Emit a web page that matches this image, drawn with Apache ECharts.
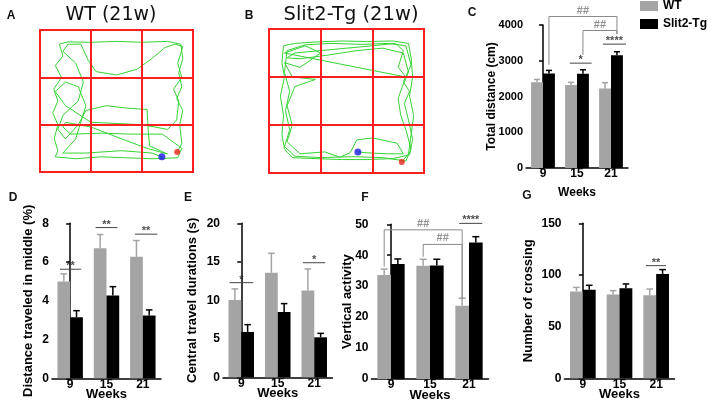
<!DOCTYPE html>
<html><head><meta charset="utf-8">
<script src="https://cdn.jsdelivr.net/npm/echarts@6/dist/echarts.min.js"></script>
<style>html,body{margin:0;padding:0;background:#fff}#c{width:708px;height:412px}</style>
</head><body><div id="c"></div>
<script>
// ---------- DATA ----------
const weeks = ['9', '15', '21'];
const groupNames = ['WT', 'Slit2-Tg'];

// C: Total distance (cm)
const cWT = [2400, 2320, 2225];   const cWTsem = [77, 75, 160];
const cTg = [2645, 2638, 3152];   const cTgsem = [85, 110, 100];
// D: Distance traveled in middle (%)
const dWT = [4.99, 6.71, 6.27];   const dWTsem = [0.40, 0.71, 0.84];
const dTg = [3.15, 4.27, 3.24];   const dTgsem = [0.34, 0.46, 0.29];
// E: Central travel durations (s)
const eWT = [10.05, 13.59, 11.26]; const eWTsem = [1.43, 2.51, 2.81];
const eTg = [5.89, 8.48, 5.19];    const eTgsem = [0.95, 1.09, 0.52];
// F: Vertical activity
const fWT = [33.6, 36.6, 23.7];   const fWTsem = [1.9, 2.1, 2.4];
const fTg = [37.2, 36.7, 44.1];   const fTgsem = [1.6, 2.0, 1.9];
// G: Number of crossing
const gWT = [84.1, 81.2, 80.3];   const gWTsem = [3.9, 3.6, 6.1];
const gTg = [85.8, 87.1, 101.0];  const gTgsem = [4.2, 4.2, 4.2];

// significance brackets: [fromWeekIdx, toWeekIdx, group(-1 WT / +1 Tg), lineY, leftEndY, rightEndY, text]
const cBrackets = [[0, 2, 1, 4238, 2885, 3745, '##'], [1, 2, 1, 3846, 3165, 3745, '##']];
const fBrackets = [[0, 2, -1, 48.2, 36.3, 26.1, '##'], [1, 2, -1, 43.5, 39.5, 26.1, '##']];
// significance lines: [weekIdx, startRel, endRel, y, text]
const cStars = [[1, -0.21, 0.43, 2933, '*'], [2, -0.24, 0.44, 3465, '****']];
const dStars = [[0, -0.28, 0.30, 5.63, '**'], [1, -0.30, 0.30, 7.78, '**'], [2, -0.22, 0.40, 7.44, '**']];
const eStars = [[0, -0.32, 0.33, 12.29, '*'], [2, -0.31, 0.30, 14.88, '*']];
const fStars = [[2, -0.25, 0.34, 50.3, '****']];
const gStars = [[2, -0.28, 0.27, 109, '**']];

// open-field tracks (arena units 0..3, y downward)
const trackA = [
 [2.69,2.58],[2.78,2.4],[2.74,2.0],[2.8,1.7],[2.68,1.45],[2.78,1.2],[2.72,0.9],[2.8,0.6],[2.76,0.3],[2.5,0.24],[2.0,0.26],[1.5,0.24],[1.0,0.26],[0.55,0.25],[0.38,0.3],[0.45,0.55],[0.3,0.75],[0.42,1.0],[0.27,1.25],[0.35,1.5],[0.25,1.75],[0.35,2.0],[0.28,2.3],[0.35,2.55],[0.3,2.68],
 [0.7,2.72],[1.2,2.68],[1.7,2.7],[2.2,2.72],[2.7,2.7],[2.78,2.5],[2.4,2.2],[1.8,2.2],[1.2,2.18],[0.6,2.2],[0.45,2.05],
 [0.5,1.95],[1.0,2.05],[1.6,2.3],[2.1,2.5],[2.5,2.62],
 [2.15,2.45],[2.12,2.1],[2.1,1.68],[1.7,1.65],[1.3,1.6],[0.9,1.7],[0.75,2.0],[0.5,2.3],[0.35,2.1],
 [0.45,1.8],[0.75,1.5],[0.85,1.1],[0.7,0.7],[0.45,0.45],[0.55,0.3],[0.8,0.3],[0.95,0.65],[1.1,0.88],[1.5,0.95],[1.9,0.83],[2.2,0.6],[2.45,0.37],[2.65,0.3],[2.8,0.35],
 [2.7,0.7],[2.78,1.0],[2.62,1.25],[2.72,1.5],[2.68,1.9],[2.5,2.1],[2.0,2.0],[1.0,1.95],[0.5,1.6],[0.3,1.3],[0.5,1.1],[0.75,1.2],[0.9,1.6],[0.7,2.3],[0.45,2.6],[0.9,2.6],[1.6,2.55],[2.2,2.6],[2.39,2.68]
];
const trackB = [
 [2.57,2.77],[2.7,2.6],[2.75,2.2],[2.8,1.8],[2.72,1.4],[2.78,1.0],[2.75,0.6],[2.7,0.3],[2.4,0.25],[1.9,0.26],[1.4,0.25],[0.9,0.27],[0.5,0.3],[0.28,0.35],[0.25,0.7],[0.3,1.0],[0.22,1.4],[0.28,1.8],[0.25,2.2],[0.3,2.5],[0.45,2.68],[0.9,2.7],[1.4,2.72],[1.9,2.72],[2.4,2.7],[2.72,2.62],[2.78,2.3],[2.7,1.9],[2.62,1.55],[2.72,1.3],[2.6,1.1],[2.75,0.75],[2.65,0.35],[2.3,0.3],[1.8,0.32],[1.2,0.3],[0.7,0.33],[0.35,0.45],[0.3,0.9],[0.4,1.3],[0.32,1.7],[0.4,2.1],[0.3,2.45],[0.5,2.65],[1.0,2.68],[1.6,2.66],[2.2,2.68],[2.65,2.75],[2.75,2.5],[2.65,2.1],[2.55,1.8],[2.5,1.45],[2.58,1.2],[2.7,0.9],[2.6,0.5],[2.2,0.4],[1.7,0.45],[1.1,0.55],[0.6,0.62],[0.35,0.6],[0.5,0.5],[1.0,0.45],[1.5,0.4],[2.0,0.35],[2.45,0.3],[2.6,0.45],[2.5,0.8],[2.65,1.0],
 [0.3,0.5],[0.7,0.35],[1.0,0.5],[0.6,0.8],[0.3,0.7],[0.45,1.0],[0.9,1.05],[0.5,1.2],[0.35,1.6],[0.45,2.0],[0.35,2.35],[0.6,2.6],[1.08,2.56],[1.37,2.67],[1.57,2.58],[1.7,2.31],[2.01,2.27],[2.48,2.38],[2.6,2.6],[2.3,2.6],[1.9,2.58],[1.72,2.56]
];
const startA = [2.69, 2.58], endA = [2.39, 2.68];
const startB = [2.57, 2.77], endB = [1.72, 2.56];

// ---------- CHART ----------
const FONT = '"Liberation Sans", Arial, sans-serif';
const GRAY = '#a4a4a4', BLACK = '#000', GREEN = '#35d435', RED = '#ff1f1f';

const grids = [
  {left: 40, top: 30, width: 153, height: 142},
  {left: 269, top: 29, width: 155, height: 144},
  {left: 526, top: 25, width: 102, height: 143},
  {left: 52, top: 223.3, width: 109, height: 155},
  {left: 223, top: 223.3, width: 109.5, height: 154},
  {left: 371.5, top: 224.3, width: 117, height: 154.7},
  {left: 564.5, top: 223.3, width: 110, height: 155}
];
grids.forEach((g, i) => { g.containLabel = false; if (i < 2) { g.show = true; g.borderColor = RED; g.borderWidth = 2; } });

const xAxes = [], yAxes = [], series = [];

[[trackA, startA, endA], [trackB, startB, endB]].forEach((t, k) => {
  const ax = {type: 'value', gridIndex: k, min: 0, max: 3, interval: 1, z: 5,
    axisLine: {show: false}, axisTick: {show: false}, axisLabel: {show: false},
    splitLine: {show: true, lineStyle: {color: RED, width: 2}}};
  xAxes.push(Object.assign({}, ax));
  yAxes.push(Object.assign({inverse: true}, ax));
  series.push({type: 'line', xAxisIndex: k, yAxisIndex: k, data: t[0], symbol: 'none',
    lineStyle: {color: GREEN, width: 1}, silent: true});
  series.push({type: 'scatter', xAxisIndex: k, yAxisIndex: k, data: [t[1]], symbolSize: 6, itemStyle: {color: '#e8221a'}, z: 6});
  series.push({type: 'scatter', xAxisIndex: k, yAxisIndex: k, data: [t[2]], symbolSize: 7, itemStyle: {color: '#1a1ae0'}, z: 6});
});

const panels = [
  {wt: cWT, wtS: cWTsem, tg: cTg, tgS: cTgsem, max: 4000, iv: 1000, name: 'Total distance (cm)', nGap: 28, nfs: 12, lfs: 11, xfs: 12, wfs: 12, wGap: 19, br: cBrackets, st: cStars},
  {wt: dWT, wtS: dWTsem, tg: dTg, tgS: dTgsem, max: 8, iv: 2, name: 'Distance traveled in middle (%)', nGap: 17, nfs: 13, lfs: 12, xfs: 12, wfs: 13, wGap: 10, br: [], st: dStars},
  {wt: eWT, wtS: eWTsem, tg: eTg, tgS: eTgsem, max: 20, iv: 5, name: 'Central travel durations (s)', nGap: 24, nfs: 13, lfs: 12, xfs: 12, wfs: 13, wGap: 10, br: [], st: eStars},
  {wt: fWT, wtS: fWTsem, tg: fTg, tgS: fTgsem, max: 50, iv: 10, name: 'Vertical activity', nGap: 18, nfs: 13, lfs: 12, xfs: 12, wfs: 13, wGap: 10, br: fBrackets, st: fStars},
  {wt: gWT, wtS: gWTsem, tg: gTg, tgS: gTgsem, max: 150, iv: 50, name: 'Number of crossing', nGap: 30, nfs: 13, lfs: 12, xfs: 12, wfs: 13, wGap: 10, br: [], st: gStars}
];

const OFF = 0.175;
function errSeries(xi, yi, means, sems, side, color) {
  return {type: 'custom', xAxisIndex: xi, yAxisIndex: yi, z: 3, silent: true,
    data: means.map((m, i) => [i, m, m + sems[i]]),
    renderItem(params, api) {
      const c0 = api.coord([api.value(0), api.value(1)]);
      const c1 = api.coord([api.value(0), api.value(2)]);
      const band = api.size([1, 0])[0];
      const x = c0[0] + side * band * OFF;
      const hw = band * 0.09;
      return {type: 'group', children: [
        {type: 'line', shape: {x1: x, y1: c0[1], x2: x, y2: c1[1]}, style: {stroke: color, lineWidth: 1.5}},
        {type: 'line', shape: {x1: x - hw, y1: c1[1], x2: x + hw, y2: c1[1]}, style: {stroke: color, lineWidth: 1.5}}
      ]};
    }};
}

panels.forEach((p, j) => {
  const gi = 2 + j;
  const cx = xAxes.length;
  xAxes.push({type: 'category', gridIndex: gi, data: weeks,
    axisLine: {lineStyle: {color: '#000', width: 1.5}},
    axisTick: {alignWithLabel: true, length: 4, lineStyle: {color: '#000', width: 1.5}},
    axisLabel: {color: '#000', fontWeight: 'bold', fontSize: p.xfs, margin: 0, fontFamily: FONT},
    name: 'Weeks', nameLocation: 'middle', nameGap: p.wGap, nameMoveOverlap: false,
    nameTextStyle: {color: '#000', fontWeight: 'bold', fontSize: p.wfs, fontFamily: FONT, verticalAlign: 'top'}});
  const vx = xAxes.length;
  xAxes.push({type: 'value', gridIndex: gi, min: -0.5, max: 2.5, show: false});
  const yi = yAxes.length;
  yAxes.push({type: 'value', gridIndex: gi, min: 0, max: p.max, interval: p.iv,
    axisLine: {show: true, lineStyle: {color: '#000', width: 1.5}},
    axisTick: {show: true, length: 4, lineStyle: {color: '#000', width: 1.5}},
    splitLine: {show: false},
    axisLabel: {color: '#000', fontWeight: 'bold', fontSize: p.lfs, margin: 3, fontFamily: FONT, formatter: v => String(v)},
    name: p.name, nameLocation: 'middle', nameRotate: 90, nameGap: p.nGap, nameMoveOverlap: false,
    nameTextStyle: {color: '#000', fontWeight: 'bold', fontSize: p.nfs, fontFamily: FONT}});
  series.push({type: 'bar', name: groupNames[0], xAxisIndex: cx, yAxisIndex: yi, data: p.wt,
    barWidth: '35%', barGap: '0%', itemStyle: {color: GRAY}});
  series.push({type: 'bar', name: groupNames[1], xAxisIndex: cx, yAxisIndex: yi, data: p.tg,
    barWidth: '35%', barGap: '0%', itemStyle: {color: BLACK}});
  series.push(errSeries(cx, yi, p.wt, p.wtS, -1, GRAY));
  series.push(errSeries(cx, yi, p.tg, p.tgS, 1, BLACK));

  const labels = [];
  p.br.forEach(b => {
    const x1 = b[0] + b[2] * OFF, x2 = b[1] + b[2] * OFF;
    series.push({type: 'line', xAxisIndex: vx, yAxisIndex: yi, clip: false, silent: true, symbol: 'none', z: 4,
      data: [[x1, b[4]], [x1, b[3]], [x2, b[3]], [x2, b[5]]],
      lineStyle: {color: '#8a8a8a', width: 1}});
    labels.push({value: [(x1 + x2) / 2, b[3], b[6]], label: {color: '#777', offset: [0, -6]}});
  });
  p.st.forEach(s => {
    series.push({type: 'line', xAxisIndex: vx, yAxisIndex: yi, clip: false, silent: true, symbol: 'none', z: 4,
      data: [[s[0] + s[1], s[3]], [s[0] + s[2], s[3]]],
      lineStyle: {color: '#444', width: 1}});
    labels.push({value: [s[0] + (s[1] + s[2]) / 2, s[3], s[4]], label: {color: '#222', offset: [0, -3]}});
  });
  series.push({type: 'scatter', xAxisIndex: vx, yAxisIndex: yi, clip: false, silent: true, symbolSize: 0, z: 5,
    data: labels,
    label: {show: true, position: 'inside', formatter: q => q.value[2], fontSize: 11, fontWeight: 'bold', fontFamily: FONT}});
});

const letters = [['A', 11, 16], ['B', 249, 16], ['C', 472, 13], ['D', 13, 198], ['E', 188, 198], ['F', 365, 198], ['G', 527, 196]];
const graphics = letters.map(l => ({type: 'text', x: l[1], y: l[2], z: 10,
  style: {text: l[0], font: 'bold 12px ' + FONT, fill: '#111', textAlign: 'center', textVerticalAlign: 'middle'}}));
graphics.push({type: 'text', x: 111, y: 15, style: {text: 'WT (21w)', font: '19px "DejaVu Sans", sans-serif', fill: '#111', textAlign: 'center', textVerticalAlign: 'middle'}});
graphics.push({type: 'text', x: 351, y: 15, style: {text: 'Slit2-Tg (21w)', font: '19.5px "DejaVu Sans", sans-serif', fill: '#111', textAlign: 'center', textVerticalAlign: 'middle'}});

const chart = echarts.init(document.getElementById('c'), null, {renderer: 'canvas', width: 708, height: 412});
chart.setOption({
  animation: false,
  backgroundColor: '#fff',
  textStyle: {fontFamily: FONT},
  grid: grids,
  xAxis: xAxes,
  yAxis: yAxes,
  legend: {data: groupNames, orient: 'vertical', left: 640, top: 0, padding: 0, itemWidth: 18, itemHeight: 10, itemGap: 6,
    icon: 'rect', selectedMode: false, textStyle: {fontWeight: 'bold', fontSize: 12, color: '#000', fontFamily: FONT}},
  graphic: graphics,
  series: series
});
</script></body></html>
